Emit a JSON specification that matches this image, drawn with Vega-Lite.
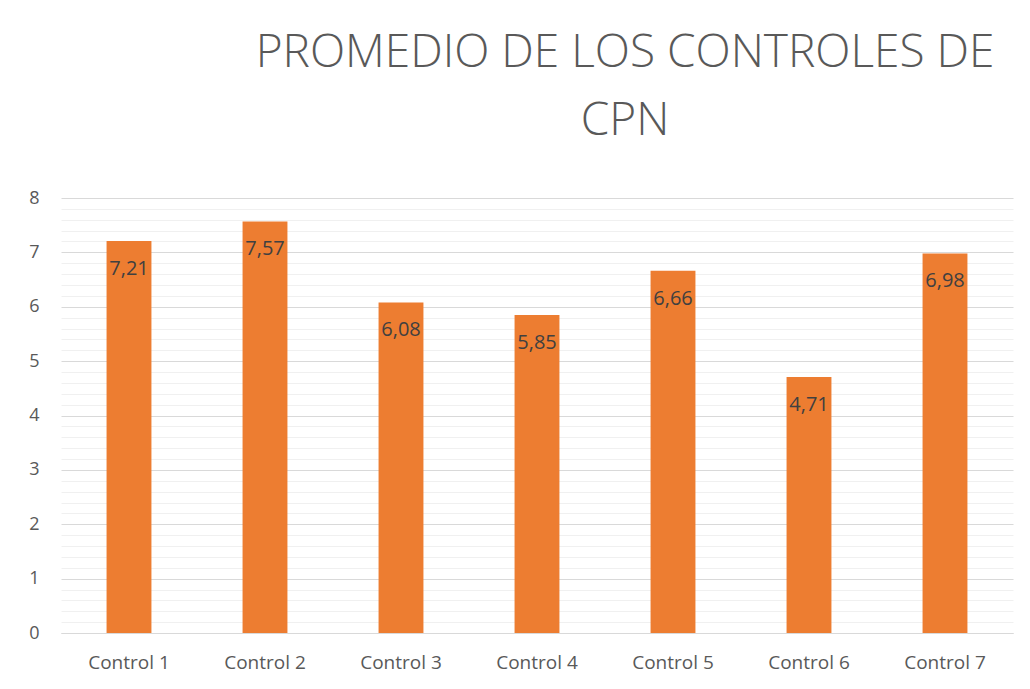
{
  "$schema": "https://vega.github.io/schema/vega-lite/v6.json",
  "width": 952,
  "height": 435,
  "autosize": {"type": "none"},
  "padding": {"left": 61, "top": 198, "right": 17, "bottom": 56},
  "background": "white",
  "config": {
    "view": {"stroke": null},
    "font": "Open Sans",
    "locale": {"number": {"decimal": ",", "thousands": ".", "grouping": [3], "currency": ["", ""]}}
  },
  "title": {
    "text": ["PROMEDIO DE LOS CONTROLES DE", "CPN"],
    "font": "Open Sans",
    "fontWeight": 300,
    "fontSize": 46,
    "color": "#595959",
    "lineHeight": 68,
    "anchor": "middle",
    "dx": 88,
    "offset": 44
  },
  "data": {
    "values": [
      {"control": "Control 1", "promedio": 7.21},
      {"control": "Control 2", "promedio": 7.57},
      {"control": "Control 3", "promedio": 6.08},
      {"control": "Control 4", "promedio": 5.85},
      {"control": "Control 5", "promedio": 6.66},
      {"control": "Control 6", "promedio": 4.71},
      {"control": "Control 7", "promedio": 6.98}
    ]
  },
  "encoding": {
    "x": {
      "field": "control",
      "type": "nominal",
      "sort": null,
      "scale": {"paddingInner": 0.67, "paddingOuter": 0.335},
      "axis": {
        "title": null,
        "labelAngle": 0,
        "labelFontSize": 19,
        "labelColor": "#595959",
        "labelPadding": 20,
        "ticks": false,
        "domainColor": "#d9d9d9",
        "domainWidth": 1
      }
    },
    "y": {
      "field": "promedio",
      "type": "quantitative",
      "scale": {"domain": [0, 8]},
      "axis": {
        "title": null,
        "values": [0, 0.2, 0.4, 0.6, 0.8, 1, 1.2, 1.4, 1.6, 1.8, 2, 2.2, 2.4, 2.6, 2.8, 3, 3.2, 3.4, 3.6, 3.8, 4, 4.2, 4.4, 4.6, 4.8, 5, 5.2, 5.4, 5.6, 5.8, 6, 6.2, 6.4, 6.6, 6.8, 7, 7.2, 7.4, 7.6, 7.8, 8],
        "labelExpr": "abs(datum.value - round(datum.value)) < 0.001 ? format(datum.value, 'd') : ''",
        "labelFontSize": 18,
        "labelColor": "#595959",
        "labelPadding": 22,
        "ticks": false,
        "domain": false,
        "grid": true,
        "gridColor": {"condition": {"test": "abs(datum.value - round(datum.value)) < 0.001", "value": "#d9d9d9"}, "value": "#f0f0f0"},
        "gridWidth": 1
      }
    }
  },
  "layer": [
    {"mark": {"type": "bar", "color": "#ED7D31"}},
    {
      "mark": {"type": "text", "baseline": "middle", "dy": 28, "fontSize": 20, "color": "#404040"},
      "encoding": {"text": {"field": "promedio", "type": "quantitative", "format": ".2f"}}
    }
  ]
}
